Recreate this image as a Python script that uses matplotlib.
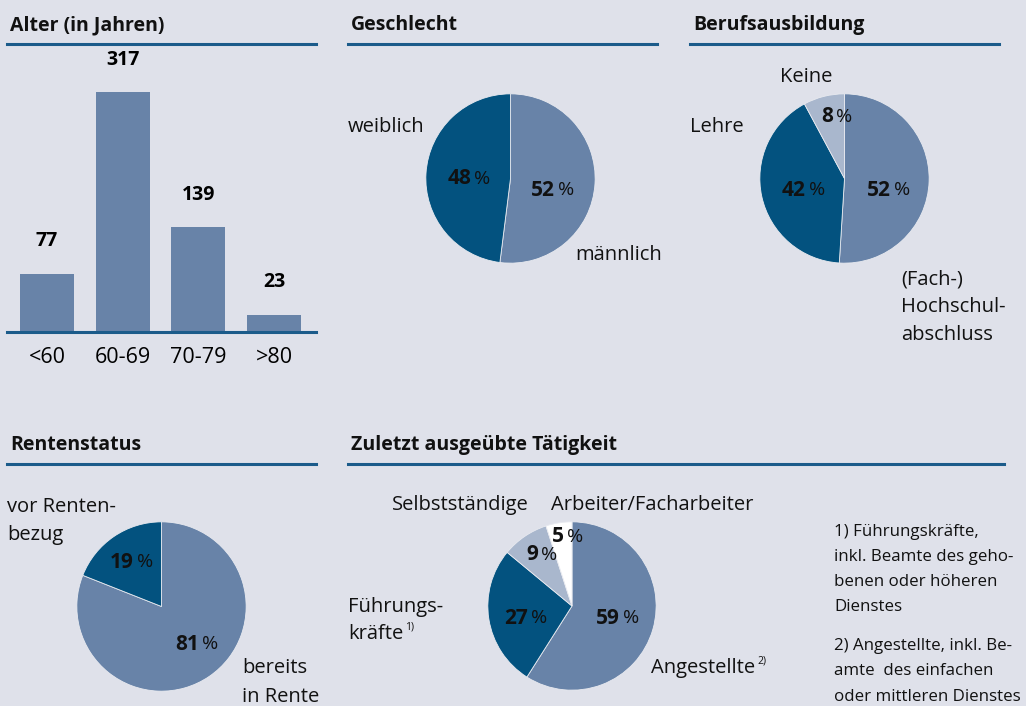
import matplotlib
matplotlib.use("Agg")
import matplotlib.pyplot as plt
from matplotlib.lines import Line2D

plt.rcParams['font.family'] = ['Open Sans', 'DejaVu Sans']

# data
age_groups = ["<60", "60-69", "70-79", ">80"]
age_counts = [77, 317, 139, 23]

gender_labels = ["männlich", "weiblich"]
gender_pct = [52, 48]

edu_labels = ["(Fach-) Hochschulabschluss", "Lehre", "Keine"]
edu_pct = [52, 42, 8]

pension_labels = ["bereits in Rente", "vor Rentenbezug"]
pension_pct = [81, 19]

job_labels = ["Angestellte", "Führungskräfte", "Selbstständige", "Arbeiter/Facharbeiter"]
job_pct = [59, 27, 9, 5]

# colours
BG = "#dfe1ea"
MID = "#6883a8"
DARK = "#03527f"
LIGHT = "#a9b7cd"
LINE = "#1b5b8a"

W, H = 1026, 706
fig = plt.figure(figsize=(W / 100, H / 100), dpi=100, facecolor=BG)


def fx(x):
    return x / W


def fy(y):
    return 1 - y / H


def put(x, y, s, size=14.5, weight="normal", ha="left", va="center"):
    fig.text(fx(x), fy(y), s, fontsize=size, fontweight=weight, ha=ha, va=va, color="#111111")


def header(x0, x1, y_text, y_line, title):
    put(x0 + 3, y_text, title, size=14, weight="bold")
    fig.add_artist(Line2D([fx(x0), fx(x1)], [fy(y_line), fy(y_line)], color=LINE, lw=2.2,
                          transform=fig.transFigure))


def pct(x, y, num):
    # bold number, regular percent sign, split at x
    put(x - 1, y, str(num), size=15, weight="bold", ha="right")
    put(x + 2, y, "%", size=14)


def pie(cx, cy, r, values, colors):
    ax = fig.add_axes([fx(cx - r), fy(cy + r), 2 * r / W, 2 * r / H])
    ax.pie(values, colors=colors, startangle=90, counterclock=False, radius=1,
           wedgeprops=dict(edgecolor="#e8eaf0", linewidth=0.6))
    ax.set_xlim(-1.01, 1.01)
    ax.set_ylim(-1.01, 1.01)
    ax.set_aspect("equal")
    ax.axis("off")
    return ax


# Alter (in Jahren)
header(7, 316, 25, 44, "Alter (in Jahren)")
ax = fig.add_axes([fx(7), fy(332), (316 - 7) / W, (332 - 52) / H])
ax.set_facecolor("none")
xs = range(len(age_counts))
bars = ax.bar(xs, age_counts, width=0.713, color=MID)
ax.set_xlim(-0.528, 3.555)
ax.set_ylim(0, 317 * 280 / 240)
for s in ["top", "right", "left"]:
    ax.spines[s].set_visible(False)
ax.spines["bottom"].set_color(LINE)
ax.spines["bottom"].set_linewidth(2.2)
ax.set_yticks([])
ax.set_xticks(list(xs))
ax.set_xticklabels(age_groups, fontsize=15.5)
ax.tick_params(axis="x", length=0, pad=11)
for b, v in zip(bars, age_counts):
    ax.annotate(str(v), (b.get_x() + b.get_width() / 2, v), xytext=(0, 16),
                textcoords="offset points", ha="center", va="bottom",
                fontsize=14, fontweight="bold")

# Geschlecht
header(348, 657, 25, 44, "Geschlecht")
pie(510.5, 178.5, 85.5, gender_pct, [MID, DARK])
pct(556, 190, gender_pct[0])
pct(472, 179, gender_pct[1])
put(348, 127, "weiblich")
put(575, 255, "männlich")

# Berufsausbildung
header(690, 999, 25, 44, "Berufsausbildung")
pie(844.5, 178.5, 85.5, edu_pct, [MID, DARK, LIGHT])
pct(892, 190, edu_pct[0])
pct(807, 190, edu_pct[1])
pct(834, 117, edu_pct[2])
put(780, 77, "Keine")
put(690, 127, "Lehre")
put(901, 280, "(Fach-)")
put(901, 307, "Hochschul-")
put(901, 335, "abschluss")

# Rentenstatus
header(7, 316, 445, 464, "Rentenstatus")
pie(161.5, 606.5, 85.5, pension_pct, [MID, DARK])
pct(200, 644, pension_pct[0])
pct(135, 562, pension_pct[1])
put(7, 507, "vor Renten-")
put(7, 535, "bezug")
put(242, 668, "bereits")
put(242, 697, "in Rente")

# Zuletzt ausgeübte Tätigkeit
header(348, 1004, 445, 464, "Zuletzt ausgeübte Tätigkeit")
pie(572, 606, 85, job_pct, [MID, DARK, LIGHT, "white"])
pct(621, 618, job_pct[0])
pct(529, 618, job_pct[1])
pct(539, 555, job_pct[2])
pct(565, 537, job_pct[3])
put(392, 505, "Selbstständige")
put(551, 505, "Arbeiter/Facharbeiter")
put(348, 607, "Führungs-")
put(348, 634, "kräfte")
put(405, 627, "1)", size=7.5)
put(651, 668, "Angestellte")
put(757, 661, "2)", size=7.5)

notes = ["1) Führungskräfte,", "inkl. Beamte des geho-", "benen oder höheren", "Dienstes",
         "2) Angestellte, inkl. Be-", "amte  des einfachen", "oder mittleren Dienstes"]
for t, yy in zip(notes, [532, 557, 582, 607, 646, 671, 697]):
    put(834, yy, t, size=12.2)

fig.savefig("out.png", dpi=100, facecolor=BG)
